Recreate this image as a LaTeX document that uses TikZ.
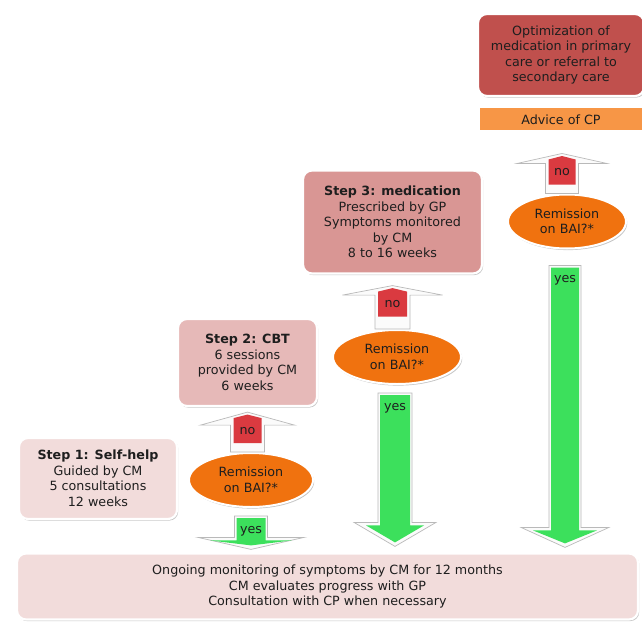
\documentclass[tikz,border=0pt]{standalone}
\usepackage{fontspec}
\setmainfont{DejaVu Sans}
\usetikzlibrary{shapes.geometric,shadows,calc}
\definecolor{pinkA}{HTML}{F2DCDB}
\definecolor{pinkB}{HTML}{E6B9B8}
\definecolor{pinkC}{HTML}{D99694}
\definecolor{darkredbox}{HTML}{C0504D}
\definecolor{advicecol}{HTML}{F79646}
\definecolor{orangeE}{HTML}{F0720F}
\definecolor{redno}{HTML}{DA3A40}
\definecolor{greenyes}{HTML}{3CE05C}
\definecolor{txtcol}{HTML}{1E1E1E}
\tikzset{
  every node/.style={text=txtcol, font=\fontsize{12.7}{15.5}\selectfont},
  boxsh/.style={drop shadow={shadow xshift=1.2pt, shadow yshift=-1.6pt, fill=black!50, opacity=0.45}},
  box/.style={rectangle, rounded corners=9pt, draw=white, line width=2.2pt, align=center,
    inner sep=0pt, boxsh},
  flatbox/.style={rectangle, draw=white, line width=2pt, align=center, inner sep=0pt, boxsh},
  decision/.style={ellipse, fill=orangeE, draw=white, line width=2pt, align=center,
    inner sep=0pt, boxsh},
  arrowout/.style={fill=white!97!gray, draw=gray!55, line width=0.7pt, line join=miter},
  lbl/.style={inner sep=0pt},
}
% up arrow: #1 bottom, #2 tip, #3 shaft half, #4 head half, #5 head length, #6 label name
\newcommand\uparw[6]{%
  \path[arrowout] let \p1=(#1), \p2=(#2) in
    (\x2-#3pt,\y1) -- (\x2-#3pt,\y2-#5pt) -- (\x2-#4pt,\y2-#5pt) -- (\x2,\y2)
    -- (\x2+#4pt,\y2-#5pt) -- (\x2+#3pt,\y2-#5pt) -- (\x2+#3pt,\y1) -- cycle;
  \path[fill=redno] let \p2=(#2) in
    (\x2-#3pt+3pt,\y2-31pt) -- (\x2-#3pt+3pt,\y2-6pt) -- (\x2,\y2-2.5pt)
    -- (\x2+#3pt-3pt,\y2-6pt) -- (\x2+#3pt-3pt,\y2-31pt) -- cycle;
  \node[lbl] (#6) at ($(#2)+(0,18.5)$) {no};
}
% down arrow: #1 top, #2 tip, #3 shaft half, #4 head half, #5 head length, #6 label name
\newcommand\downarw[6]{%
  \path[arrowout] let \p1=(#1), \p2=(#2) in
    (\x1-#3pt,\y1) -- (\x1-#3pt,\y2+#5pt) -- (\x1-#4pt,\y2+#5pt) -- (\x1,\y2)
    -- (\x1+#4pt,\y2+#5pt) -- (\x1+#3pt,\y2+#5pt) -- (\x1+#3pt,\y1) -- cycle;
  \path[fill=greenyes] let \p1=(#1), \p2=(#2) in
    (\x1-#3pt+2pt,\y1-2pt) -- (\x1-#3pt+2pt,\y2+#5pt-3pt) -- (\x1-#4pt+12pt,\y2+#5pt-3pt)
    -- (\x1,\y2+4pt) -- (\x1+#4pt-12pt,\y2+#5pt-3pt) -- (\x1+#3pt-2pt,\y2+#5pt-3pt)
    -- (\x1+#3pt-2pt,\y1-2pt) -- cycle;
  \node[lbl] (#6) at ($(#1)+(0,15)$) {yes};
}
\begin{document}
\begin{tikzpicture}[x=1pt,y=-1pt]
\useasboundingbox[fill=white] (0,0) rectangle (642,623);

% boxes
\node[box, fill=pinkA, minimum width=158pt, minimum height=81pt] (s1) at (98,478.5)
  {\textbf{Step 1: Self-help}\\Guided by CM\\5 consultations\\12 weeks};
\node[box, fill=pinkB, minimum width=139pt, minimum height=87pt] (s2) at (247.5,362.5)
  {\textbf{Step 2: CBT}\\6 sessions\\provided by CM\\6 weeks};
\node[box, fill=pinkC, minimum width=179pt, minimum height=103pt] (s3) at (392.5,222)
  {\textbf{Step 3: medication}\\Prescribed by GP\\Symptoms monitored\\by CM\\8 to 16 weeks};
\node[box, fill=darkredbox, minimum width=166pt, minimum height=82pt] (opt) at (561,55)
  {Optimization of\\medication in primary\\care or referral to\\secondary care};
\node[flatbox, fill=advicecol, minimum width=164pt, minimum height=24pt] (adv) at (561,119.5)
  {Advice of CP};
\node[box, fill=pinkA, minimum width=621pt, minimum height=66pt] (bot) at (327.5,586.5)
  {Ongoing monitoring of symptoms by CM for 12 months\\CM evaluates progress with GP\\Consultation with CP when necessary};

% decisions
\node[decision, minimum width=124pt, minimum height=54pt] (eA) at (251,480) {Remission\\on BAI?*};
\node[decision, minimum width=128pt, minimum height=54pt] (eB) at (397,357) {Remission\\on BAI?*};
\node[decision, minimum width=118pt, minimum height=54pt] (eC) at (567,221.5) {Remission\\on BAI?*};

% no arrows (upwards)
\uparw{eA.north}{$(s2.south)+(0,5)$}{17}{47}{13}{noA}
\uparw{eB.north}{$(s3.south)+(0,11)$}{17.5}{50}{9.5}{noB}
\uparw{eC.north}{$(adv.south)+(1,21)$}{16.5}{45}{10}{noC}

% yes arrows (downwards)
\downarw{$(eA.south)+(0,8)$}{$(eA.south |- bot.north)+(0,-3)$}{16.5}{53}{12}{yesA}
\downarw{$(eB.south)+(-2,8)$}{$(eB.south |- bot.north)+(0,-6)$}{17}{41}{24}{yesB}
\downarw{$(eC.south)+(-2,16)$}{$(eC.south |- bot.north)+(0,-5)$}{16}{44}{20}{yesC}
\end{tikzpicture}
\end{document}
